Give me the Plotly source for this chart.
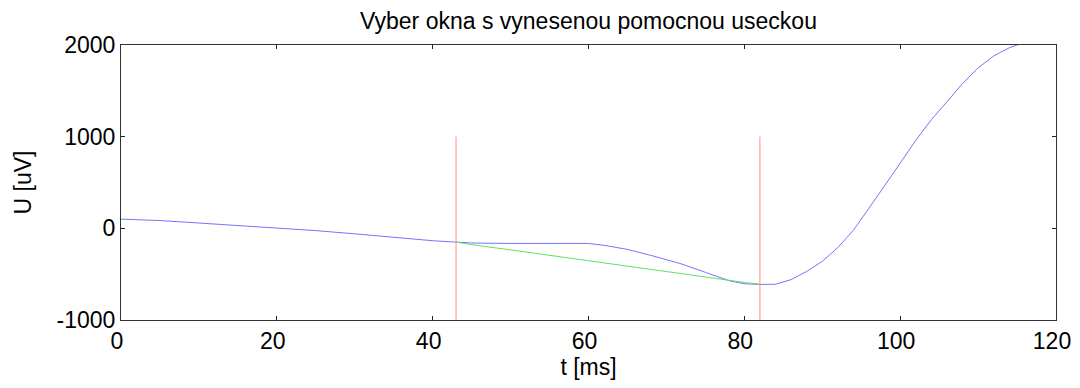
import plotly.graph_objects as go

# signal (blue)
t_signal = [0, 5, 10, 15, 20, 25, 30, 35, 40, 43, 45, 50, 55, 60, 62, 65, 68, 70, 72,
            75, 78, 80, 82, 84, 86, 88, 90, 92, 94, 96, 98, 100, 102, 104, 106, 108,
            110, 112, 114, 115, 117]
u_signal = [100, 85, 58, 30, 5, -25, -60, -100, -135, -150, -160, -165, -165, -165,
            -185, -230, -295, -340, -390, -480, -570, -605, -612, -610, -560, -470,
            -360, -210, -20, 220, 460, 710, 960, 1185, 1380, 1580, 1750, 1880, 1970,
            2000, 2040]

# auxiliary segment (green)
t_line = [43, 46, 50, 55, 60, 65, 70, 75, 80, 82]
u_line = [-150, -190, -235, -295, -350, -410, -470, -530, -590, -610]

# window borders (red)
window_t = [43, 82]
window_u = [-1000, 1000]

x_ticks = [0, 20, 40, 60, 80, 100, 120]
y_ticks = [-1000, 0, 1000, 2000]
y_ticklabels = ['-1000', '0', '1000', '2000']

fig = go.Figure()

fig.add_trace(go.Scatter(x=t_signal, y=u_signal, mode='lines',
                         line=dict(color='#7474ff', width=1)))
fig.add_trace(go.Scatter(x=t_line, y=u_line, mode='lines',
                         line=dict(color='#5fe05f', width=1)))
for t in window_t:
    fig.add_trace(go.Scatter(x=[t, t], y=window_u, mode='lines',
                             line=dict(color='#ff8c8c', width=1)))

axis_style = dict(showline=True, linecolor='#333333', linewidth=1, mirror='ticks',
                  ticks='inside', ticklen=4, tickcolor='#222222', showgrid=False,
                  zeroline=False, automargin=False, ticklabeloverflow='allow',
                  tickfont=dict(size=23, color='black'))

# page body has an 8px margin, so the figure is smaller than the window
fig.update_layout(
    width=1064, height=372,
    margin=dict(l=113, r=16, t=37, b=60),
    paper_bgcolor='white', plot_bgcolor='white',
    showlegend=False,
    font=dict(family='Liberation Sans, Arial, sans-serif', color='black'),
    title=dict(text='Vyber okna s vynesenou pomocnou useckou', x=0.5, xref='paper',
               y=0.966, yanchor='middle', font=dict(size=23)),
    xaxis=dict(range=[0, 120], tickvals=x_ticks, ticklabelshift=-4,
               title=dict(text='t [ms]', font=dict(size=23), standoff=2), **axis_style),
    yaxis=dict(range=[-1000, 2000], tickvals=y_ticks, ticktext=y_ticklabels,
               title=dict(text='U [uV]', font=dict(size=23), standoff=18), **axis_style),
)

fig.write_html("out.html")
